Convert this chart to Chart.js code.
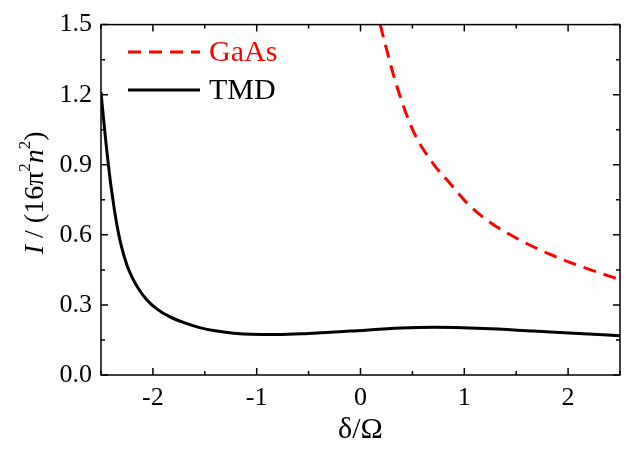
<!DOCTYPE html>
<html>
<head>
<meta charset="utf-8">
<script src="https://cdn.jsdelivr.net/npm/chart.js@4"></script>
<style>
  html, body { margin: 0; padding: 0; background: #fff; }
  #wrap { width: 644px; height: 452px; }
</style>
</head>
<body>
<div id="wrap"><canvas id="plot"></canvas></div>
<script>
// values
const tmdX = [-2.5, -2.485, -2.465, -2.45, -2.43, -2.41, -2.385, -2.365, -2.335, -2.3, -2.25, -2.2, -2.14, -2.06, -1.96, -1.84, -1.7, -1.55, -1.4, -1.22, -1.05, -0.8, -0.5, -0.1, 0.39, 0.7, 1.19, 1.67, 2.15, 2.5];
const tmdY = [1.21, 1.14, 1.05, 0.985, 0.905, 0.83, 0.75, 0.69, 0.615, 0.545, 0.47, 0.418, 0.37, 0.322, 0.282, 0.25, 0.224, 0.203, 0.189, 0.179, 0.174, 0.173, 0.178, 0.188, 0.201, 0.204, 0.199, 0.188, 0.177, 0.168];
const gaasX = [0.19, 0.224, 0.353, 0.513, 0.705, 0.865, 1.026, 1.25, 1.506, 1.827, 2.147, 2.5];
const gaasY = [1.5, 1.44, 1.232, 1.04, 0.902, 0.819, 0.736, 0.653, 0.585, 0.516, 0.461, 0.408];
const xTicks = [-2, -1, 0, 1, 2];
const yTicks = [0, 0.3, 0.6, 0.9, 1.2, 1.5];

const serif = '"Liberation Serif", "DejaVu Serif", serif';

const toPoints = (xs, ys) => xs.map((x, i) => ({ x: x, y: ys[i] }));

// frame, inward ticks (major + minor), legend and y title
const decor = {
  id: 'decor',
  afterDraw(chart) {
    const ctx = chart.ctx;
    const a = chart.chartArea;
    const xs = chart.scales.x, ys = chart.scales.y;
    ctx.save();
    ctx.strokeStyle = '#000';
    ctx.lineWidth = 1.5;
    ctx.strokeRect(a.left, a.top, a.right - a.left, a.bottom - a.top);

    ctx.beginPath();
    for (let v = -2.5; v <= 2.5001; v += 0.5) {
      const px = xs.getPixelForValue(v);
      const len = Math.abs(v - Math.round(v)) < 1e-6 ? 7 : 4;
      ctx.moveTo(px, a.bottom); ctx.lineTo(px, a.bottom - len);
      ctx.moveTo(px, a.top); ctx.lineTo(px, a.top + len);
    }
    for (let i = 0; i <= 10; i++) {
      const v = i * 0.15;
      const py = ys.getPixelForValue(v);
      const len = i % 2 === 0 ? 7 : 4;
      ctx.moveTo(a.left, py); ctx.lineTo(a.left + len, py);
      ctx.moveTo(a.right, py); ctx.lineTo(a.right - len, py);
    }
    ctx.stroke();

    // legend inside the plot, upper left
    const rows = [chart.data.datasets[1], chart.data.datasets[0]];
    rows.forEach((ds, i) => {
      const y = 52 + i * 38;
      ctx.beginPath();
      ctx.strokeStyle = ds.borderColor;
      ctx.lineWidth = 3;
      ctx.setLineDash(ds.borderDash || []);
      ctx.moveTo(128, y); ctx.lineTo(200, y);
      ctx.stroke();
      ctx.setLineDash([]);
      ctx.fillStyle = ds.borderColor;
      ctx.font = '30px ' + serif;
      ctx.textAlign = 'left';
      ctx.textBaseline = 'middle';
      ctx.fillText(ds.label, 209, y + 1);
    });

    // y axis title: I / (16π²n²) with italics and superscripts
    const parts = [
      { t: 'I', f: 'italic 28px ', dy: 0 },
      { t: ' / (16π', f: '28px ', dy: 0 },
      { t: '2', f: '17px ', dy: -10 },
      { t: 'n', f: 'italic 28px ', dy: 0 },
      { t: '2', f: '17px ', dy: -10 },
      { t: ')', f: '28px ', dy: 0 }
    ];
    let total = 0;
    parts.forEach(p => { ctx.font = p.f + serif; p.w = ctx.measureText(p.t).width; total += p.w; });
    ctx.translate(36, (a.top + a.bottom) / 2 - 7);
    ctx.rotate(-Math.PI / 2);
    ctx.fillStyle = '#000';
    ctx.textAlign = 'left';
    ctx.textBaseline = 'middle';
    let cx = -total / 2;
    parts.forEach(p => {
      ctx.font = p.f + serif;
      ctx.fillText(p.t, cx, p.dy);
      cx += p.w;
    });
    ctx.restore();
  }
};

new Chart(document.getElementById('plot'), {
  type: 'line',
  data: {
    datasets: [
      {
        label: 'TMD',
        data: toPoints(tmdX, tmdY),
        borderColor: '#000000',
        borderWidth: 3,
        pointRadius: 0,
        cubicInterpolationMode: 'monotone'
      },
      {
        label: 'GaAs',
        data: toPoints(gaasX, gaasY),
        borderColor: '#ff0000',
        borderWidth: 3,
        borderDash: [13, 8],
        pointRadius: 0,
        cubicInterpolationMode: 'monotone'
      }
    ]
  },
  options: {
    responsive: true,
    maintainAspectRatio: false,
    animation: false,
    layout: { padding: { top: 12, right: 24, left: 0, bottom: 0 } },
    plugins: { legend: { display: false }, tooltip: { enabled: false } },
    scales: {
      x: {
        type: 'linear',
        min: -2.5,
        max: 2.5,
        afterBuildTicks: s => { s.ticks = xTicks.map(v => ({ value: v })); },
        afterFit: s => { s.height = 77; },
        grid: { display: false, drawTicks: false },
        border: { display: false },
        ticks: {
          color: '#000',
          padding: 8,
          maxRotation: 0,
          font: { family: serif, size: 26 },
          callback: v => String(v)
        },
        title: {
          display: true,
          text: 'δ/Ω',
          color: '#000',
          font: { family: serif, size: 30 },
          padding: { top: 0, bottom: 4 }
        }
      },
      y: {
        min: 0,
        max: 1.5,
        afterBuildTicks: s => { s.ticks = yTicks.map(v => ({ value: v })); },
        afterFit: s => { s.width = 101; },
        grid: { display: false, drawTicks: false },
        border: { display: false },
        ticks: {
          color: '#000',
          padding: 9,
          font: { family: serif, size: 26 },
          callback: v => v.toFixed(1)
        }
      }
    }
  },
  plugins: [decor]
});
</script>
</body>
</html>
